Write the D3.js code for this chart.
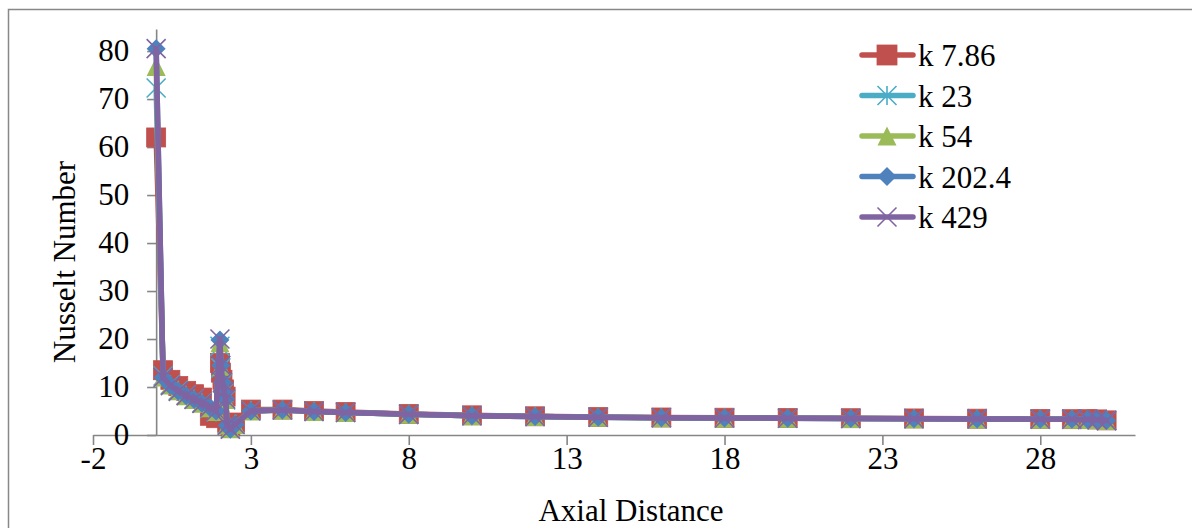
<!DOCTYPE html>
<html>
<head>
<meta charset="utf-8">
<script src="https://cdn.jsdelivr.net/npm/d3@7"></script>
<style>
  html, body { margin: 0; padding: 0; background: #fff; }
  svg { display: block; }
  text { font-family: "Liberation Serif", "Times New Roman", serif; fill: #000; }
</style>
</head>
<body>
<svg id="chart" width="1192" height="528"></svg>
<script>
// Axial positions shared by every series
const axialDistance = [0, 0.22, 0.45, 0.7, 0.95, 1.2, 1.45, 1.7, 1.9, 2.02, 2.05, 2.1, 2.15, 2.2, 2.25, 2.35, 2.5,
  3, 4, 5, 6, 8, 10, 12, 14, 16, 18, 20, 22, 24, 26, 28, 29, 29.5, 29.8, 30.1];

// Nusselt number for each conductivity
const nuK786 = [62, 13.5, 11.5, 10.2, 9.2, 8.5, 7.8, 4.0, 3.5, 15.0, 13.0, 11.5, 9.5, 8.0, 2.5, 1.8, 2.6,
  5.3, 5.3, 5.0, 4.8, 4.4, 4.1, 3.9, 3.75, 3.65, 3.6, 3.55, 3.5, 3.45, 3.4, 3.35, 3.3, 3.3, 3.25, 3.05];
const nuK23 = [72.3, 12.3, 10.5, 9.3, 8.3, 7.5, 6.7, 5.6, 4.8, 18.5, 14.0, 10.8, 8.8, 7.3, 2.2, 1.4, 2.3,
  5.1, 5.2, 4.9, 4.7, 4.3, 4.0, 3.85, 3.7, 3.6, 3.55, 3.5, 3.45, 3.4, 3.35, 3.3, 3.3, 3.25, 3.2, 3.0];
const nuK54 = [76.8, 12.1, 10.4, 9.2, 8.2, 7.4, 6.6, 5.7, 4.9, 19.2, 14.3, 10.9, 8.9, 7.4, 2.1, 1.3, 2.2,
  5.0, 5.2, 4.9, 4.7, 4.3, 4.0, 3.85, 3.7, 3.6, 3.55, 3.5, 3.45, 3.4, 3.35, 3.3, 3.3, 3.25, 3.2, 3.0];
const nuK2024 = [80.5, 12.0, 10.3, 9.1, 8.2, 7.4, 6.6, 5.8, 5.0, 19.8, 14.5, 11.0, 9.0, 7.5, 2.0, 1.2, 2.2,
  5.0, 5.2, 4.9, 4.7, 4.3, 4.0, 3.85, 3.7, 3.6, 3.55, 3.5, 3.45, 3.4, 3.35, 3.3, 3.3, 3.25, 3.2, 3.0];
const nuK429 = [80.5, 12.0, 10.3, 9.1, 8.2, 7.4, 6.6, 5.8, 5.0, 20.0, 14.5, 11.0, 9.0, 7.5, 2.0, 1.2, 2.2,
  5.0, 5.2, 4.9, 4.7, 4.3, 4.0, 3.85, 3.7, 3.6, 3.55, 3.5, 3.45, 3.4, 3.35, 3.3, 3.3, 3.25, 3.2, 3.0];

const seriesNames = ["k 7.86", "k 23", "k 54", "k 202.4", "k 429"];
const xTicks = [-2, 3, 8, 13, 18, 23, 28];
const yTicks = [0, 10, 20, 30, 40, 50, 60, 70, 80];

const seriesList = [
  { name: seriesNames[0], values: nuK786, color: "#C0504D", marker: "square" },
  { name: seriesNames[1], values: nuK23, color: "#4BACC6", marker: "star" },
  { name: seriesNames[2], values: nuK54, color: "#9BBB59", marker: "triangle" },
  { name: seriesNames[3], values: nuK2024, color: "#4F81BD", marker: "diamond" },
  { name: seriesNames[4], values: nuK429, color: "#8064A2", marker: "cross" }
];

const svg = d3.select("#chart");
const FONT = 31;
const MS = 19;

// chart frame
svg.append("rect").attr("x", 8.5).attr("y", 9.5).attr("width", 1300).attr("height", 600)
  .attr("fill", "none").attr("stroke", "#888").attr("stroke-width", 1.5);

const x = d3.scaleLinear().domain([-2, 31]).range([93, 1135]);
const y = d3.scaleLinear().domain([0, 84.6]).range([435, 29]);

// axes (plain hyphen for negative labels)
const fmt = d => String(d);
const xAxis = svg.append("g").attr("transform", `translate(0,${y(0)})`)
  .call(d3.axisBottom(x).tickValues(xTicks).tickSize(10).tickSizeOuter(0).tickPadding(2).tickFormat(fmt));
const yAxis = svg.append("g").attr("transform", `translate(${x(0)},0)`)
  .call(d3.axisLeft(y).tickValues(yTicks).tickSize(9).tickSizeOuter(0).tickPadding(18).tickFormat(fmt));

[xAxis, yAxis].forEach(g => {
  g.select(".domain").attr("stroke", "#868686").attr("stroke-width", 1.6);
  g.selectAll(".tick line").attr("stroke", "#868686").attr("stroke-width", 1.6);
  g.selectAll(".tick text").attr("font-size", FONT).attr("font-family", "Liberation Serif, serif").attr("fill", "#000");
});

// axis titles
svg.append("text").attr("x", 631).attr("y", 521).attr("text-anchor", "middle")
  .attr("font-size", FONT).text("Axial Distance");
svg.append("text").attr("transform", "translate(75,262) rotate(-90)").attr("text-anchor", "middle")
  .attr("font-size", FONT).text("Nusselt Number");

function drawMarker(g, type, cx, cy, s, color) {
  const h = s / 2;
  if (type === "square") {
    g.append("rect").attr("x", cx - h).attr("y", cy - h).attr("width", s).attr("height", s)
      .attr("fill", color).attr("stroke", color).attr("stroke-width", 0.8);
  } else if (type === "triangle") {
    g.append("path").attr("d", `M${cx},${cy - h}L${cx + h},${cy + h}L${cx - h},${cy + h}Z`)
      .attr("fill", color);
  } else if (type === "diamond") {
    g.append("path").attr("d", `M${cx},${cy - h}L${cx + h},${cy}L${cx},${cy + h}L${cx - h},${cy}Z`)
      .attr("fill", color);
  } else if (type === "star") {
    g.append("path").attr("d",
      `M${cx - h},${cy - h}L${cx + h},${cy + h}M${cx + h},${cy - h}L${cx - h},${cy + h}M${cx},${cy - h}L${cx},${cy + h}`)
      .attr("stroke", color).attr("stroke-width", 1.6).attr("fill", "none");
  } else if (type === "cross") {
    g.append("path").attr("d",
      `M${cx - h},${cy - h}L${cx + h},${cy + h}M${cx + h},${cy - h}L${cx - h},${cy + h}`)
      .attr("stroke", color).attr("stroke-width", 1.6).attr("fill", "none");
  }
}

const line = d3.line().x(d => x(d[0])).y(d => y(d[1]));

seriesList.forEach(s => {
  const pts = axialDistance.map((d, i) => [d, s.values[i]]);
  const g = svg.append("g");
  g.append("path").datum(pts).attr("d", line)
    .attr("fill", "none").attr("stroke", s.color).attr("stroke-width", 5.5)
    .attr("stroke-linejoin", "round").attr("stroke-linecap", "round");
  pts.forEach(p => drawMarker(g, s.marker, x(p[0]), y(p[1]), MS, s.color));
});

// legend
const legend = svg.append("g");
seriesList.forEach((s, i) => {
  const cy = 55 + i * 40.5;
  legend.append("line").attr("x1", 862).attr("x2", 913).attr("y1", cy).attr("y2", cy)
    .attr("stroke", s.color).attr("stroke-width", 5.5).attr("stroke-linecap", "round");
  drawMarker(legend, s.marker, 887, cy, s.marker === "square" ? 20 : MS, s.color);
  legend.append("text").attr("x", 918).attr("y", cy + 11).attr("font-size", FONT).text(s.name);
});
</script>
</body>
</html>
